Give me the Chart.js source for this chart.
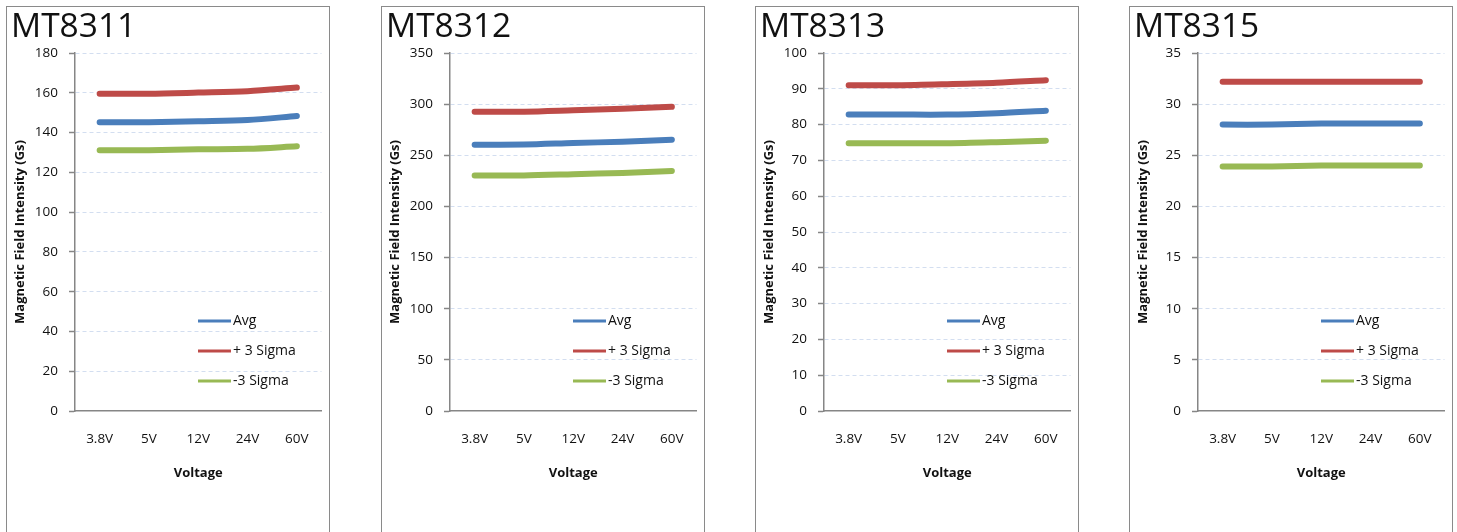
<!DOCTYPE html>
<html>
<head>
<meta charset="utf-8">
<script src="https://cdn.jsdelivr.net/npm/chart.js@4/dist/chart.umd.min.js"></script>
<style>
  html, body { margin: 0; padding: 0; background: #fff; width: 1457px; height: 532px; overflow: hidden; }
  .panel { position: absolute; top: 6px; width: 322px; height: 540px; border: 1px solid #8a8a8a; background: #fff; }
  .panel .box { position: relative; width: 322px; height: 526px; }
</style>
</head>
<body>
<div class="panel" style="left:6px"><div class="box"><canvas id="c0"></canvas></div></div>
<div class="panel" style="left:381px"><div class="box"><canvas id="c1"></canvas></div></div>
<div class="panel" style="left:755px"><div class="box"><canvas id="c2"></canvas></div></div>
<div class="panel" style="left:1129px"><div class="box"><canvas id="c3"></canvas></div></div>
<script>
// ---- data ----
const categories = ['3.8V', '5V', '12V', '24V', '60V'];
const seriesNames = ['Avg', '+ 3 Sigma', '-3 Sigma'];
const chartTitles = ['MT8311', 'MT8312', 'MT8313', 'MT8315'];

const mt8311Avg   = [145.2, 145.2, 145.7, 146.3, 148.3];
const mt8311Plus  = [159.5, 159.5, 160.1, 160.8, 162.6];
const mt8311Minus = [131.1, 131.1, 131.6, 131.8, 133.1];

const mt8312Avg   = [260.4, 260.5, 262.0, 263.3, 265.3];
const mt8312Plus  = [292.5, 292.6, 294.0, 295.5, 297.4];
const mt8312Minus = [230.2, 230.3, 231.5, 232.8, 234.7];

const mt8313Avg   = [82.8, 82.8, 82.8, 83.2, 83.9];
const mt8313Plus  = [91.0, 91.0, 91.3, 91.7, 92.4];
const mt8313Minus = [74.8, 74.8, 74.8, 75.1, 75.5];

const mt8315Avg   = [28.0, 28.0, 28.1, 28.1, 28.1];
const mt8315Plus  = [32.2, 32.2, 32.2, 32.2, 32.2];
const mt8315Minus = [23.9, 23.9, 24.0, 24.0, 24.0];

const yMax  = [180, 350, 100, 35];
const yStep = [20, 50, 10, 5];

const xTitle = 'Voltage';
const yTitle = 'Magnetic Field Intensity (Gs)';

// ---- style ----
const colors = ['#4a7ebb', '#be4b48', '#98b954'];
const FONT = "'Open Sans', 'Noto Sans', sans-serif";

const allSeries = [
  [mt8311Avg, mt8311Plus, mt8311Minus],
  [mt8312Avg, mt8312Plus, mt8312Minus],
  [mt8313Avg, mt8313Plus, mt8313Minus],
  [mt8315Avg, mt8315Plus, mt8315Minus]
];

const decorPlugin = {
  id: 'decor',
  afterDraw(chart, args, opts) {
    const ctx = chart.ctx;
    const a = chart.chartArea;
    ctx.save();
    // title
    ctx.fillStyle = '#111';
    ctx.font = '33.5px ' + FONT;
    ctx.textAlign = 'left';
    ctx.textBaseline = 'alphabetic';
    ctx.fillText(opts.title, 4, 30);
    // legend
    ctx.font = '14px ' + FONT;
    ctx.textBaseline = 'middle';
    chart.data.datasets.forEach((ds, i) => {
      const y = a.top + 268 + i * 30;
      ctx.strokeStyle = ds.borderColor;
      ctx.lineWidth = 3;
      ctx.beginPath();
      ctx.moveTo(a.left + 123, y);
      ctx.lineTo(a.left + 156, y);
      ctx.stroke();
      ctx.fillStyle = '#111';
      ctx.fillText(ds.label, a.left + 158, y);
    });
    ctx.restore();
  }
};

allSeries.forEach((series, idx) => {
  new Chart(document.getElementById('c' + idx), {
    type: 'line',
    data: {
      labels: categories,
      datasets: series.map((vals, i) => ({
        label: seriesNames[i],
        data: vals,
        borderColor: colors[i],
        backgroundColor: colors[i],
        borderWidth: 6,
        borderCapStyle: 'round',
        borderJoinStyle: 'round',
        pointRadius: 0,
        pointHoverRadius: 0,
        tension: 0.3,
        fill: false
      }))
    },
    options: {
      responsive: true,
      maintainAspectRatio: false,
      animation: false,
      events: [],
      layout: { padding: { left: 0, right: 4, top: 46, bottom: 52 } },
      plugins: {
        legend: { display: false },
        tooltip: { enabled: false },
        title: { display: false },
        decor: { title: chartTitles[idx] }
      },
      scales: {
        x: {
          type: 'category',
          offset: true,
          grid: { display: false, drawTicks: false },
          border: { display: true, color: '#868686', width: 1.5 },
          ticks: { color: '#111', padding: 20, font: { family: FONT, size: 13.5 }, maxRotation: 0 },
          title: { display: true, text: xTitle, color: '#111', padding: { top: 2, bottom: 0 }, font: { family: FONT, size: 13, weight: 'bold' } },
          afterFit(scale) { scale.height = 70; }
        },
        y: {
          min: 0,
          max: yMax[idx],
          ticks: { stepSize: yStep[idx], color: '#111', padding: 11, font: { family: FONT, size: 13.5 } },
          grid: {
            color: (c) => (c.tick && c.tick.value === 0) ? 'rgba(0,0,0,0)' : '#d3def0',
            lineWidth: 1,
            drawTicks: true,
            tickLength: 6,
            tickColor: '#868686',
            tickBorderDash: [],
            tickWidth: 1.5
          },
          border: { display: true, color: '#868686', width: 1.5, dash: [4, 3] },
          title: { display: true, text: yTitle, color: '#111', padding: { top: 5, bottom: 0 }, font: { family: FONT, size: 13, weight: 'bold' } },
          afterFit(scale) { scale.width = 68; }
        }
      }
    },
    plugins: [decorPlugin]
  });
});
</script>
</body>
</html>
